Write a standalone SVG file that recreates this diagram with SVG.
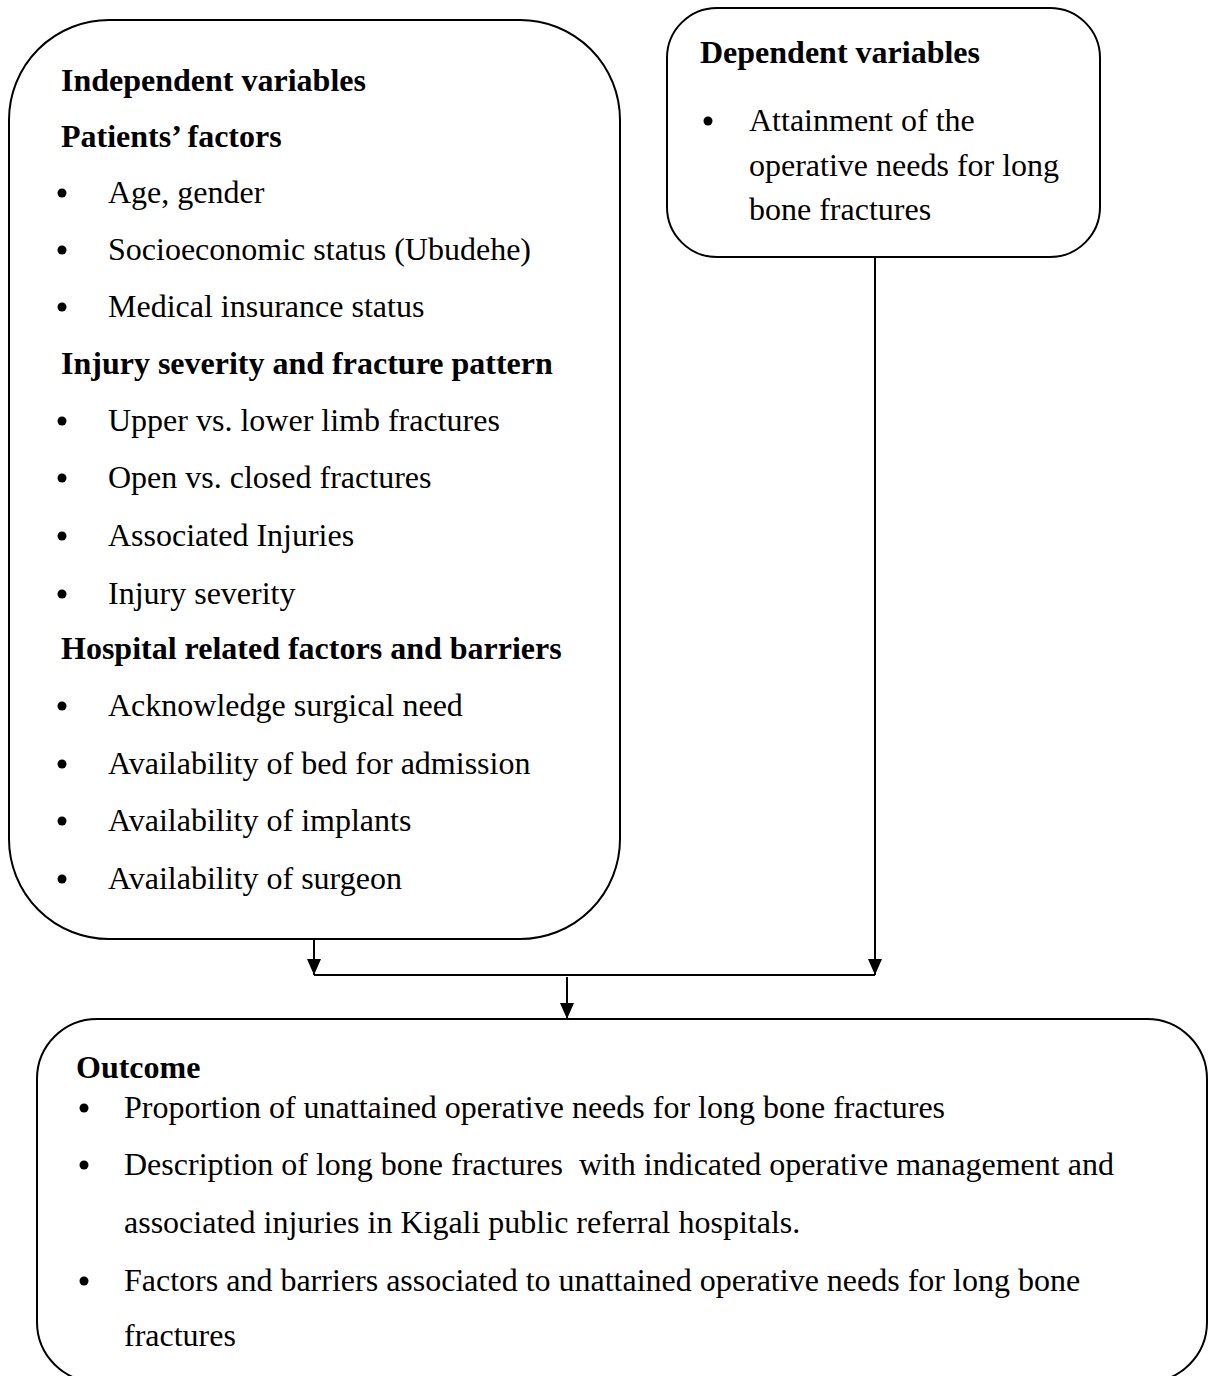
<svg xmlns="http://www.w3.org/2000/svg" width="1208" height="1376" viewBox="0 0 1208 1376">
<style>
.box{fill:#fff;stroke:#000;stroke-width:2}
.t{font-family:"Liberation Serif","Times New Roman",serif;font-size:32px;fill:#000}
.b{font-weight:bold}
.dot{fill:#000}
.c{stroke:#000;stroke-width:2;fill:none}
</style>
<defs>
<marker id="ah" refX="16" refY="7.5" markerWidth="17" markerHeight="15" markerUnits="userSpaceOnUse" orient="auto">
<path d="M0,0.5 L16,7.5 L0,14.5 z" fill="#000"/>
</marker>
</defs>
<rect width="1208" height="1376" fill="#fff"/>
<g id="independent">
<rect class="box" x="9" y="20" width="611" height="919" rx="100" ry="100"/>
<text class="t b" x="61" y="91">Independent variables</text>
<text class="t b" x="61" y="147">Patients’ factors</text>
<circle class="dot" cx="62" cy="193" r="4.5"/><text class="t" x="108" y="203">Age, gender</text>
<circle class="dot" cx="62" cy="250" r="4.5"/><text class="t" x="108" y="260">Socioeconomic status (Ubudehe)</text>
<circle class="dot" cx="62" cy="307" r="4.5"/><text class="t" x="108" y="317">Medical insurance status</text>
<text class="t b" x="61" y="374">Injury severity and fracture pattern</text>
<circle class="dot" cx="62" cy="421" r="4.5"/><text class="t" x="108" y="431">Upper vs. lower limb fractures</text>
<circle class="dot" cx="62" cy="478" r="4.5"/><text class="t" x="108" y="488">Open vs. closed fractures</text>
<circle class="dot" cx="62" cy="536" r="4.5"/><text class="t" x="108" y="546">Associated Injuries</text>
<circle class="dot" cx="62" cy="594" r="4.5"/><text class="t" x="108" y="604">Injury severity</text>
<text class="t b" x="61" y="659">Hospital related factors and barriers</text>
<circle class="dot" cx="62" cy="706" r="4.5"/><text class="t" x="108" y="716">Acknowledge surgical need</text>
<circle class="dot" cx="62" cy="764" r="4.5"/><text class="t" x="108" y="774">Availability of bed for admission</text>
<circle class="dot" cx="62" cy="821" r="4.5"/><text class="t" x="108" y="831">Availability of implants</text>
<circle class="dot" cx="62" cy="879" r="4.5"/><text class="t" x="108" y="889">Availability of surgeon</text>
</g>
<g id="dependent">
<rect class="box" x="667" y="8" width="433" height="249" rx="50" ry="50"/>
<text class="t b" x="700" y="63">Dependent variables</text>
<circle class="dot" cx="708" cy="121" r="4.5"/><text class="t" x="749" y="131">Attainment of the</text>
<text class="t" x="749" y="176">operative needs for long</text>
<text class="t" x="749" y="220">bone fractures</text>
</g>
<g id="outcome">
<rect class="box" x="37" y="1019" width="1170" height="363" rx="60" ry="60"/>
<text class="t b" x="76" y="1078">Outcome</text>
<circle class="dot" cx="84" cy="1108" r="4.5"/><text class="t" x="124" y="1118">Proportion of unattained operative needs for long bone fractures</text>
<circle class="dot" cx="84" cy="1165" r="4.5"/><text class="t" x="124" y="1175" xml:space="preserve">Description of long bone fractures  with indicated operative management and</text>
<text class="t" x="124" y="1233">associated injuries in Kigali public referral hospitals.</text>
<circle class="dot" cx="84" cy="1281" r="4.5"/><text class="t" x="124" y="1291">Factors and barriers associated to unattained operative needs for long bone</text>
<text class="t" x="124" y="1346">fractures</text>
</g>
<g id="connectors">
<line class="c" x1="314" y1="939" x2="314" y2="975" marker-end="url(#ah)"/>
<line class="c" x1="875" y1="257" x2="875" y2="975" marker-end="url(#ah)"/>
<line class="c" x1="314" y1="975" x2="875" y2="975"/>
<line class="c" x1="567" y1="977" x2="567" y2="1019" marker-end="url(#ah)"/>
</g>
</svg>
